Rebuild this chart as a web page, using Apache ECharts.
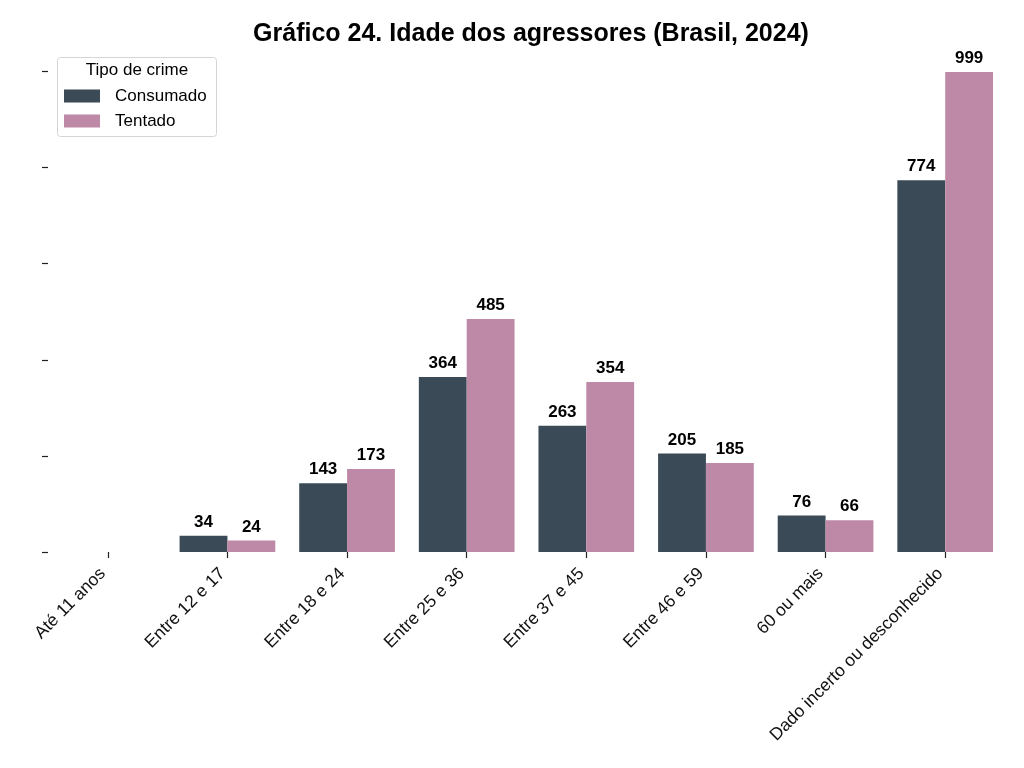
<!DOCTYPE html>
<html><head><meta charset="utf-8">
<script src="https://cdn.jsdelivr.net/npm/echarts@6/dist/echarts.min.js"></script>
<style>html,body{margin:0;padding:0;background:#fff}#c{width:1024px;height:768px}</style>
</head><body><div id="c"></div>
<script>
const categories = ["Até 11 anos","Entre 12 e 17","Entre 18 e 24","Entre 25 e 36","Entre 37 e 45","Entre 46 e 59","60 ou mais","Dado incerto ou desconhecido"];
const consumado = [null,34,143,364,263,205,76,774];
const tentado = [null,24,173,485,354,185,66,999];
const seriesNames = ["Consumado","Tentado"];
const yTicks = [0,200,400,600,800,1000];
const colors = ["#3a4b57","#bd89a6"];
const FONT = "Liberation Sans, Arial, sans-serif";
const chart = echarts.init(document.getElementById('c'));
const lbl = {show:true,position:'top',distance:5,color:'#000',fontWeight:'bold',fontSize:17,fontFamily:FONT};
chart.setOption({
  animation:false,
  title:{text:"Gráfico 24. Idade dos agressores (Brasil, 2024)",left:526,top:17,textAlign:'center',
    textStyle:{fontFamily:FONT,fontWeight:'bold',fontSize:25,color:'#000'}},
  grid:{left:48,right:19,top:48,bottom:216},
  legend:{orient:'vertical',left:64,top:86,padding:0,itemWidth:36,itemHeight:13,itemGap:5,icon:'rect',
    textStyle:{fontFamily:FONT,fontSize:17,lineHeight:20,color:'#000',padding:[0,0,0,10]},data:seriesNames},
  graphic:[
    {type:'rect',shape:{x:57.5,y:57.5,width:159,height:79,r:3},style:{fill:'#fff',stroke:'#d5d5d5',lineWidth:1},z:-1},
    {type:'text',x:137,y:62,style:{text:'Tipo de crime',fontFamily:FONT,fontSize:17,fill:'#000',textAlign:'center'}}
  ],
  xAxis:{type:'category',data:categories,axisLine:{show:false},
    axisTick:{show:true,alignWithLabel:true,length:6,lineStyle:{color:'#222',width:1.2}},
    axisLabel:{rotate:45,interval:0,fontFamily:FONT,fontSize:17.5,color:'#111',margin:14,padding:[0,7,0,0]}},
  yAxis:{type:'value',min:0,max:1049,splitLine:{show:false},axisLine:{show:false},
    axisTick:{show:true,length:6,customValues:yTicks,lineStyle:{color:'#222',width:1.2}},axisLabel:{show:false}},
  series:[
    {name:seriesNames[0],type:'bar',data:consumado,itemStyle:{color:colors[0]},barGap:'0%',barCategoryGap:'20%',label:lbl},
    {name:seriesNames[1],type:'bar',data:tentado,itemStyle:{color:colors[1]},barGap:'0%',barCategoryGap:'20%',label:lbl}
  ]
});
</script></body></html>
